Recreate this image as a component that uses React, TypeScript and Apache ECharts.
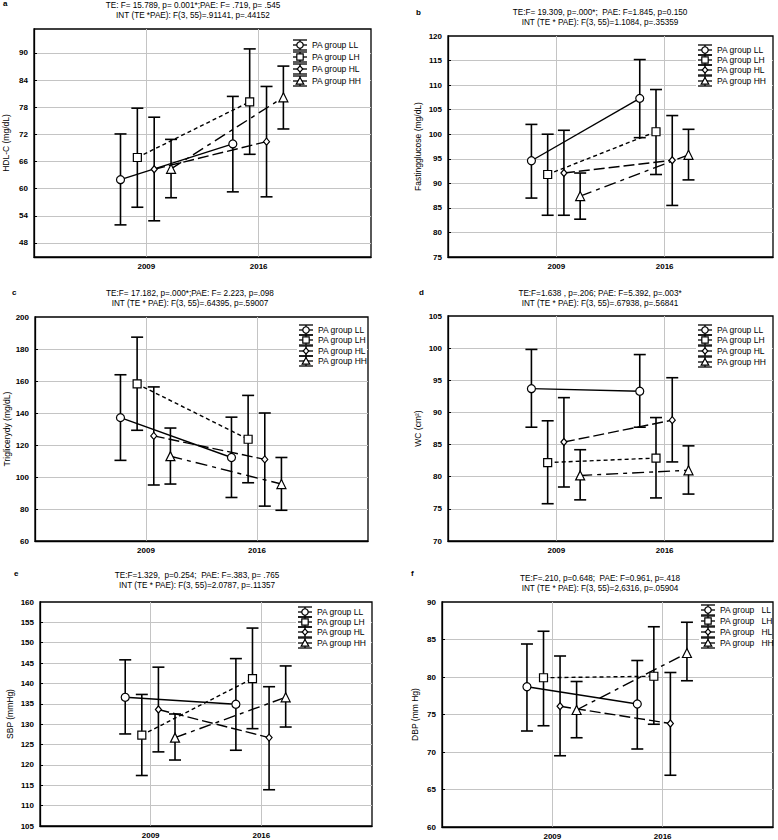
import React, { useEffect, useRef } from 'react';
import * as echarts from 'echarts';

const years = ['2009', '2016'];
const groups = ['PA group LL', 'PA group LH', 'PA group HL', 'PA group HH'];

// a: HDL-C
const hdlMean = [[62.0, 69.9], [66.9, 79.2], [64.3, 70.4], [64.4, 80.2]];
const hdlLow = [[52.0, 59.3], [55.9, 67.6], [52.9, 58.2], [58.0, 73.2]];
const hdlHigh = [[72.1, 80.4], [77.8, 90.9], [75.8, 82.6], [70.9, 87.1]];
const hdlTicks = [48, 54, 60, 66, 72, 78, 84, 90];

// b: Fasting glucose
const gluMean = [[94.6, 107.3], [91.8, 100.5], [92.1, 94.7], [87.4, 95.8]];
const gluLow = [[87.0, 99.3], [83.5, 91.8], [83.5, 85.5], [82.7, 90.7]];
const gluHigh = [[102.0, 115.2], [100.0, 109.1], [100.8, 103.8], [92.1, 101.0]];
const gluTicks = [75, 80, 85, 90, 95, 100, 105, 110, 115, 120];

// c: Triglycerides
const tgMean = [[137.1, 112.2], [158.2, 123.6], [125.7, 111.0], [113.0, 95.6]];
const tgLow = [[110.4, 87.2], [129.2, 96.4], [95.0, 81.8], [95.6, 79.2]];
const tgHigh = [[163.9, 137.4], [187.4, 151.0], [156.3, 140.0], [130.6, 112.2]];
const tgTicks = [60, 80, 100, 120, 140, 160, 180, 200];

// d: WC
const wcMean = [[93.7, 93.3], [82.2, 82.9], [85.4, 88.8], [80.2, 81.0]];
const wcLow = [[87.7, 87.7], [75.8, 76.7], [78.4, 82.3], [76.4, 77.3]];
const wcHigh = [[99.8, 99.0], [88.7, 89.2], [92.3, 95.4], [84.2, 84.8]];
const wcTicks = [70, 75, 80, 85, 90, 95, 100, 105];

// e: SBP
const sbpMean = [[136.6, 134.9], [127.3, 141.2], [133.6, 126.7], [126.7, 136.6]];
const sbpLow = [[127.6, 123.6], [117.4, 128.9], [123.2, 113.9], [121.2, 129.3]];
const sbpHigh = [[145.8, 146.1], [137.3, 153.6], [144.0, 139.2], [132.5, 144.3]];
const sbpTicks = [105, 110, 115, 120, 125, 130, 135, 140, 145, 150, 155, 160];

// f: DBP
const dbpMean = [[78.7, 76.4], [79.9, 80.1], [76.1, 73.8], [75.6, 83.2]];
const dbpLow = [[72.8, 70.4], [73.5, 73.7], [69.5, 66.9], [71.9, 79.5]];
const dbpHigh = [[84.4, 82.2], [86.1, 86.7], [82.8, 80.6], [79.4, 87.3]];
const dbpTicks = [60, 65, 70, 75, 80, 85, 90];

const titles = [
  ['TE: F= 15.789, p= 0.001*;PAE: F= .719, p= .545', 'INT (TE *PAE): F(3, 55)=.91141, p=.44152'],
  ['TE:F= 19.309, p=.000*;  PAE: F=1.845, p=0.150', 'INT (TE * PAE): F(3, 55)=1.1084, p=.35359'],
  ['TE:F= 17.182, p=.000*;PAE: F= 2.223, p=.098', 'INT (TE * PAE): F(3, 55)=.64395, p=.59007'],
  ['TE:F=1.638 , p=.206; PAE: F=5.392, p=.003*', 'INT (TE * PAE): F(3, 55)=.67938, p=.56841'],
  ['TE:F=1.329,  p=0.254;  PAE: F=.383, p= .765', 'INT (TE * PAE): F(3, 55)=2.0787, p=.11357'],
  ['TE:F=.210, p=0.648;  PAE: F=0.961, p=.418', 'INT (TE * PAE): F(3, 55)=2,6316, p=.05904'],
];
const yNames = ['HDL-C (mg/dL)', 'Fastingglucose (mg/dL)', 'Triglicerydy (mg/dL)', 'WC (cm\u00B2)', 'SBP (mmHg)', 'DBP (mm Hg)'];
const letters = ['a', 'b', 'c', 'd', 'e', 'f'];
const fLegend = ['PA group   LL', 'PA group   LH', 'PA group   HL', 'PA group   HH'];

const means = [hdlMean, gluMean, tgMean, wcMean, sbpMean, dbpMean];
const lows = [hdlLow, gluLow, tgLow, wcLow, sbpLow, dbpLow];
const highs = [hdlHigh, gluHigh, tgHigh, wcHigh, sbpHigh, dbpHigh];
const ticks = [hdlTicks, gluTicks, tgTicks, wcTicks, sbpTicks, dbpTicks];
const yMin = [44.9, 75, 60, 70, 105, 60];
const yMax = [95.3, 120, 200, 105, 160, 90];

// layout (pixels)
const layouts = [
  { left: 33, top: 29, width: 338, height: 228, lx: 3, ly: 3, tcx: 193, ty: 5, gap: 24, legX: 300, legY: [45, 57, 69, 81] },
  { left: 448, top: 36, width: 325, height: 221, lx: 416, ly: 12, tcx: 600, ty: 12, gap: 26, legX: 705, legY: [50, 60, 70, 81] },
  { left: 35, top: 317, width: 333, height: 224, lx: 12, ly: 292, tcx: 190, ty: 293, gap: 23, legX: 306, legY: [330, 340, 351, 361] },
  { left: 448, top: 316, width: 325, height: 225, lx: 419, ly: 292, tcx: 600, ty: 293, gap: 26, legX: 705, legY: [330, 340, 351, 362] },
  { left: 40, top: 602, width: 332, height: 224, lx: 14, ly: 573, tcx: 197, ty: 575, gap: 26, legX: 305, legY: [612, 622, 632, 643] },
  { left: 442, top: 602, width: 331, height: 225, lx: 411, ly: 573, tcx: 600, ty: 578, gap: 23, legX: 708, legY: [610, 621, 632, 643] },
];

const offsets = [-0.23, -0.08, 0.07, 0.22];
const symbols = ['circle', 'rect', 'diamond', 'triangle'];
const symbolSizes: any[] = [8, 8, [6, 7], 9];
const dashes: any[] = ['solid', [4, 3], [11, 4], [12, 5, 4, 5]];
const FONT = 'Liberation Sans, Arial, sans-serif';
const INK = '#000';

function legendGlyph(shape: number, cx: number, cy: number): any[] {
  const st = { stroke: INK, lineWidth: 1.3 };
  const hw = 7;
  const els: any[] = [
    { type: 'line', shape: { x1: cx - hw, y1: cy - 5, x2: cx + hw, y2: cy - 5 }, style: st },
    { type: 'line', shape: { x1: cx - hw, y1: cy + 5, x2: cx + hw, y2: cy + 5 }, style: st },
    { type: 'line', shape: { x1: cx, y1: cy - 5, x2: cx, y2: cy + 5 }, style: st },
    { type: 'line', shape: { x1: cx - hw, y1: cy, x2: cx + hw, y2: cy }, style: st },
  ];
  const mst = { fill: '#fff', stroke: INK, lineWidth: 1.2 };
  if (shape === 0) els.push({ type: 'circle', shape: { cx, cy, r: 3.2 }, style: mst });
  if (shape === 1) els.push({ type: 'rect', shape: { x: cx - 3.2, y: cy - 3.2, width: 6.4, height: 6.4 }, style: mst });
  if (shape === 2) els.push({ type: 'polygon', shape: { points: [[cx, cy - 3.2], [cx + 2.8, cy], [cx, cy + 3.2], [cx - 2.8, cy]] }, style: mst });
  if (shape === 3) els.push({ type: 'polygon', shape: { points: [[cx, cy - 3.5], [cx + 3.8, cy + 3.2], [cx - 3.8, cy + 3.2]] }, style: mst });
  return els.map((e) => ({ ...e, z: 12 }));
}

function buildOption(): any {
  const grid: any[] = [];
  const xAxis: any[] = [];
  const yAxis: any[] = [];
  const series: any[] = [];
  const graphic: any[] = [];

  layouts.forEach((L, p) => {
    grid.push({ left: L.left, top: L.top, width: L.width, height: L.height, show: true, borderColor: INK, borderWidth: 1.3, backgroundColor: '#fff' });
    xAxis.push({
      type: 'value', gridIndex: p, min: 0, max: 3,
      axisLine: { show: true, lineStyle: { color: INK, width: 1.3 } },
      axisTick: { show: false, customValues: [1, 2] },
      axisLabel: { customValues: [1, 2], formatter: (v: number) => years[v - 1], fontFamily: FONT, fontSize: 8, fontWeight: 'bold', color: INK, margin: 5 },
      splitLine: { show: true, lineStyle: { color: '#c4c4c4', width: 1 } },
    });
    const tv = ticks[p];
    yAxis.push({
      type: 'value', gridIndex: p, min: yMin[p], max: yMax[p],
      name: yNames[p], nameLocation: 'middle', nameGap: L.gap, nameRotate: 90,
      nameTextStyle: { fontFamily: FONT, fontSize: 8.5, color: INK },
      axisLine: { show: true, lineStyle: { color: INK, width: 1.3 } },
      axisTick: { show: true, inside: true, length: 3, customValues: tv.filter((v) => v > yMin[p] && v < yMax[p]), lineStyle: { color: INK } },
      axisLabel: { customValues: tv, fontFamily: FONT, fontSize: 8, fontWeight: 'bold', color: INK, margin: 6 },
      splitLine: { show: true, lineStyle: { color: '#c4c4c4', width: 1 } },
    });

    groups.forEach((g, k) => {
      const m = means[p][k];
      const lo = lows[p][k];
      const hi = highs[p][k];
      series.push({
        type: 'custom', name: g, xAxisIndex: p, yAxisIndex: p, z: 2,
        data: [0, 1].map((t) => [t + 1 + offsets[k], lo[t], hi[t]]),
        encode: { x: 0, y: [1, 2] },
        renderItem: (params: any, api: any) => {
          const x = api.value(0);
          const top = api.coord([x, api.value(2)]);
          const bot = api.coord([x, api.value(1)]);
          const hw = 6;
          const st = { stroke: INK, lineWidth: 1.6 };
          return {
            type: 'group',
            children: [
              { type: 'line', shape: { x1: top[0], y1: top[1], x2: bot[0], y2: bot[1] }, style: st },
              { type: 'line', shape: { x1: top[0] - hw, y1: top[1], x2: top[0] + hw, y2: top[1] }, style: st },
              { type: 'line', shape: { x1: bot[0] - hw, y1: bot[1], x2: bot[0] + hw, y2: bot[1] }, style: st },
            ],
          };
        },
      });
      series.push({
        type: 'line', name: g, xAxisIndex: p, yAxisIndex: p, z: 3,
        data: [0, 1].map((t) => [t + 1 + offsets[k], m[t]]),
        symbol: symbols[k], symbolSize: symbolSizes[k], showSymbol: true,
        itemStyle: { color: '#fff', borderColor: INK, borderWidth: 1.2 },
        lineStyle: { color: INK, width: 1.4, type: dashes[k] },
      });
    });

    // panel letter
    graphic.push({ type: 'text', x: L.lx, y: L.ly, style: { text: letters[p], font: `bold 8px ${FONT}`, fill: INK, verticalAlign: 'middle' } });
    // titles
    titles[p].forEach((t, i) => {
      graphic.push({ type: 'text', x: L.tcx, y: L.ty + i * 10.5, style: { text: t, font: `8.2px ${FONT}`, fill: INK, textAlign: 'center', verticalAlign: 'middle' } });
    });
    // legend background (covers grid lines)
    graphic.push({
      type: 'rect', z: 10,
      shape: { x: L.legX - 9, y: L.legY[0] - 7, width: L.left + L.width - (L.legX - 9) - 1, height: L.legY[3] - L.legY[0] + 14 },
      style: { fill: '#fff' },
    });
    // legend
    groups.forEach((g, k) => {
      const cy = L.legY[k];
      legendGlyph(k, L.legX, cy).forEach((el) => graphic.push(el));
      graphic.push({ type: 'text', z: 12, x: L.legX + 12, y: cy, style: { text: p === 5 ? fLegend[k] : g, font: `8.5px ${FONT}`, fill: INK, verticalAlign: 'middle' } });
    });
  });

  return { animation: false, backgroundColor: '#fff', grid, xAxis, yAxis, series, graphic };
}

export default function App() {
  const ref = useRef<HTMLDivElement>(null);
  useEffect(() => {
    document.body.style.margin = '0';
    if (!ref.current) return;
    const chart = echarts.init(ref.current, undefined, { renderer: 'svg' });
    chart.setOption(buildOption());
    return () => chart.dispose();
  }, []);
  return <div ref={ref} style={{ width: 778, height: 840 }} />;
}
